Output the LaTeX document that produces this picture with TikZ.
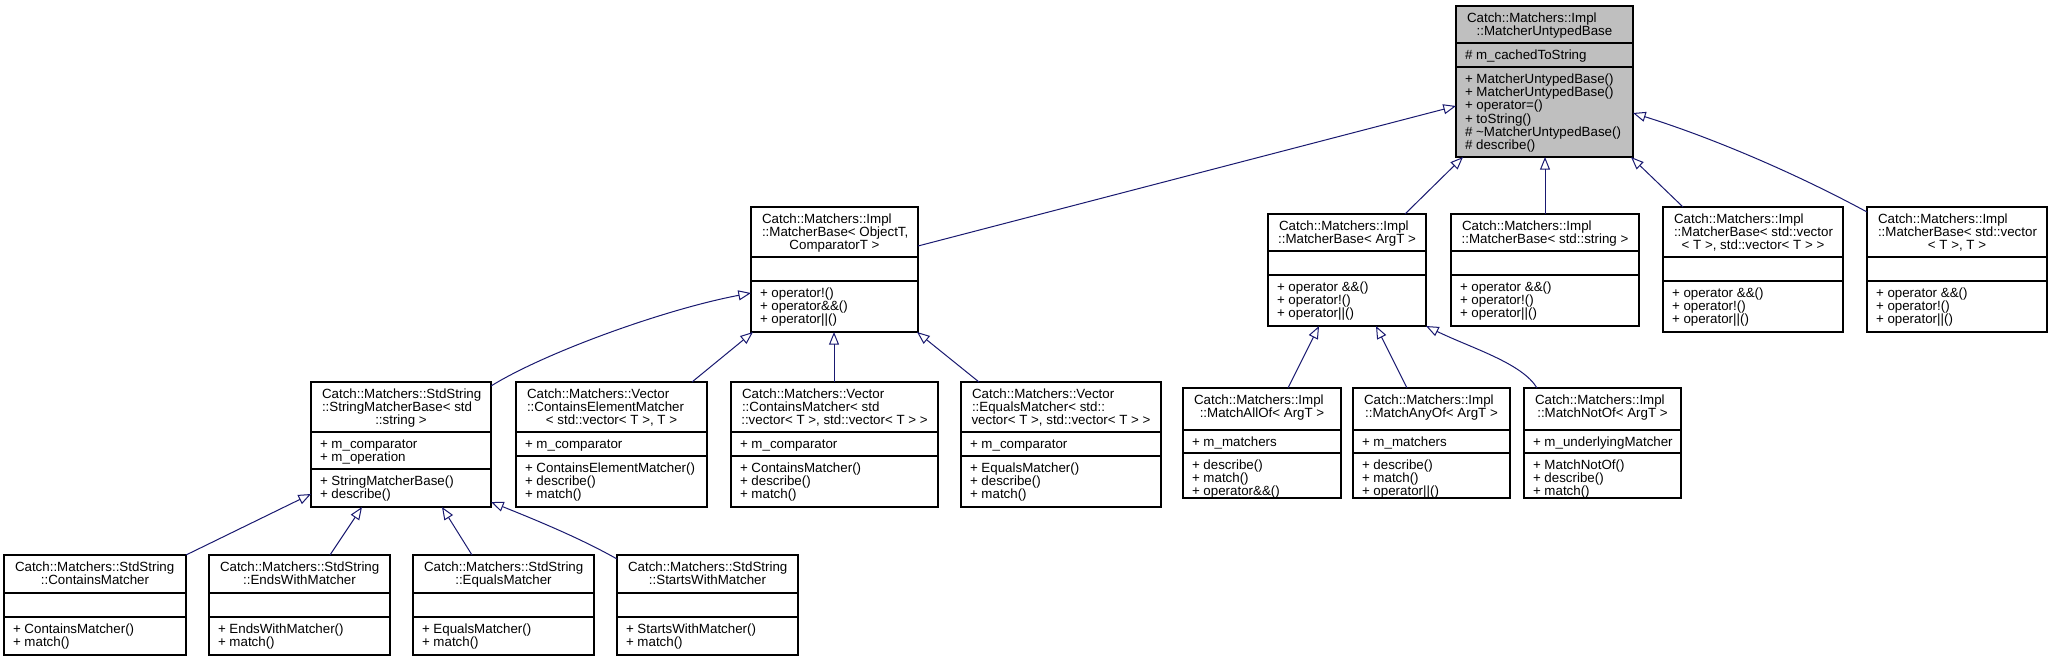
\documentclass[tikz,border=0pt]{standalone}
\usepackage{fontspec}
\setmainfont{Liberation Sans}
\usetikzlibrary{fit,arrows.meta,calc}
\definecolor{edgeblue}{HTML}{191970}
\definecolor{rootgrey}{HTML}{BFBFBF}
\newcommand\umlrows[1]{\vtop{\baselineskip=10pt\lineskiplimit=-20pt\halign{##\hfil\cr#1\crcr}}}
\newcommand\umltitlerows[2]{\vtop{\baselineskip=10pt\lineskiplimit=-20pt\halign{##\hfil\cr#1\cr\hbox to \umlW{\hss#2\hss}\cr}}}
\newcommand\umlbox[8][]{%
  \node[classbox,#1,fit={(#3,#4) (#5,#6)}] (#2) {};
  \draw[divider] (#3,#7) -- (#5,#7);
  \draw[divider] (#3,#8) -- (#5,#8);
  \pgfmathsetlengthmacro\umlW{(#5-#3-22)*0.75pt}%
  \def\umlX{#3}\def\umlY{#4}\def\umlA{#7}\def\umlB{#8}\def\umlN{#2}%
}
\newcommand\umltitle[2]{\node[umltext] (\umlN-title) at (\umlX+11,\umlY+16) {\umltitlerows{#1}{#2}};}
\newcommand\umlattrs[1]{\node[umltext] (\umlN-attrs) at (\umlX+9,\umlA+16.3) {\umlrows{#1}};}
\newcommand\umlops[1]{\node[umltext] (\umlN-ops) at (\umlX+9,\umlB+16.3) {\umlrows{#1}};}
\begin{document}
\begin{tikzpicture}[x=0.75pt,y=-0.75pt,
  classbox/.style={draw=black,line width=0.9pt,fill=white,inner sep=0pt,outer sep=0pt},
  divider/.style={draw=black,line width=0.9pt},
  umltext/.style={inner sep=0pt,outer sep=0pt,anchor=base west,font=\fontsize{10}{10}\selectfont},
  inh/.style={draw=edgeblue,line width=0.75pt,-{Triangle[open,length=9.5pt,width=7.5pt]}}]
\fill[white] (0,0) rectangle (2052,661);
\useasboundingbox (0,0) rectangle (2052,661);

% root
\umlbox[fill=rootgrey]{root}{1456}{6}{1633}{157}{43}{67}
\umltitle{Catch::Matchers::Impl}{::MatcherUntypedBase}
\umlattrs{\# m\_cachedToString}
\umlops{+ MatcherUntypedBase()\cr + MatcherUntypedBase()\cr + operator=()\cr + toString()\cr \# \textasciitilde{}MatcherUntypedBase()\cr \# describe()}

% level 2
\umlbox{mbObj}{751}{207}{918}{332}{257}{281}
\umltitle{Catch::Matchers::Impl\cr ::MatcherBase< ObjectT,}{ComparatorT >}
\umlops{+ operator!()\cr + operator\&\&()\cr + operator||()}

\umlbox{mbArg}{1268}{214}{1426}{326}{251}{275}
\umltitle{Catch::Matchers::Impl}{::MatcherBase< ArgT >}
\umlops{+ operator \&\&()\cr + operator!()\cr + operator||()}

\umlbox{mbStr}{1451}{214}{1639}{326}{251}{275}
\umltitle{Catch::Matchers::Impl}{::MatcherBase< std::string >}
\umlops{+ operator \&\&()\cr + operator!()\cr + operator||()}

\umlbox{mbVV}{1663}{207}{1843}{332}{257}{281}
\umltitle{Catch::Matchers::Impl\cr ::MatcherBase< std::vector}{< T >, std::vector< T > >}
\umlops{+ operator \&\&()\cr + operator!()\cr + operator||()}

\umlbox{mbVT}{1867}{207}{2047}{332}{257}{281}
\umltitle{Catch::Matchers::Impl\cr ::MatcherBase< std::vector}{< T >, T >}
\umlops{+ operator \&\&()\cr + operator!()\cr + operator||()}

% level 3
\umlbox{smb}{311}{382}{491}{507}{432}{469}
\umltitle{Catch::Matchers::StdString\cr ::StringMatcherBase< std}{::string >}
\umlattrs{+ m\_comparator\cr + m\_operation}
\umlops{+ StringMatcherBase()\cr + describe()}

\umlbox{cem}{516}{382}{707}{507}{432}{456}
\umltitle{Catch::Matchers::Vector\cr ::ContainsElementMatcher}{< std::vector< T >, T >}
\umlattrs{+ m\_comparator}
\umlops{+ ContainsElementMatcher()\cr + describe()\cr + match()}

\umlbox{vcm}{731}{382}{938}{507}{432}{456}
\umltitle{Catch::Matchers::Vector\cr ::ContainsMatcher< std}{::vector< T >, std::vector< T > >}
\umlattrs{+ m\_comparator}
\umlops{+ ContainsMatcher()\cr + describe()\cr + match()}

\umlbox{vem}{961}{382}{1161}{507}{432}{456}
\umltitle{Catch::Matchers::Vector\cr ::EqualsMatcher< std::}{vector< T >, std::vector< T > >}
\umlattrs{+ m\_comparator}
\umlops{+ EqualsMatcher()\cr + describe()\cr + match()}

\umlbox{mao}{1183}{388}{1341}{498}{430}{453}
\umltitle{Catch::Matchers::Impl}{::MatchAllOf< ArgT >}
\umlattrs{+ m\_matchers}
\umlops{+ describe()\cr + match()\cr + operator\&\&()}

\umlbox{many}{1353}{388}{1510}{498}{430}{453}
\umltitle{Catch::Matchers::Impl}{::MatchAnyOf< ArgT >}
\umlattrs{+ m\_matchers}
\umlops{+ describe()\cr + match()\cr + operator||()}

\umlbox{mnot}{1524}{388}{1681}{498}{430}{453}
\umltitle{Catch::Matchers::Impl}{::MatchNotOf< ArgT >}
\umlattrs{+ m\_underlyingMatcher}
\umlops{+ MatchNotOf()\cr + describe()\cr + match()}

% level 4
\umlbox{sc}{4}{555}{186}{655}{593}{617}
\umltitle{Catch::Matchers::StdString}{::ContainsMatcher}
\umlops{+ ContainsMatcher()\cr + match()}

\umlbox{sew}{209}{555}{390}{655}{593}{617}
\umltitle{Catch::Matchers::StdString}{::EndsWithMatcher}
\umlops{+ EndsWithMatcher()\cr + match()}

\umlbox{seq}{413}{555}{594}{655}{593}{617}
\umltitle{Catch::Matchers::StdString}{::EqualsMatcher}
\umlops{+ EqualsMatcher()\cr + match()}

\umlbox{ssw}{617}{555}{798}{655}{593}{617}
\umltitle{Catch::Matchers::StdString}{::StartsWithMatcher}
\umlops{+ StartsWithMatcher()\cr + match()}

% connectors
\draw[inh] ($(mbObj.north east)+(0,39)$) -- ($(root.north west)+(0,100)$);
\draw[inh] ($(mbArg.north west)+(137,0)$) -- ($(root.south west)+(7,0)$);
\draw[inh] ($(mbStr.north west)+(94,0)$) -- ($(root.south west)+(89,0)$);
\draw[inh] ($(mbVV.north west)+(20,0)$) -- ($(root.south east)+(-2,0)$);
\draw[inh] ($(mbVT.north west)+(0,5)$) .. controls +(-70,-38) and +(80,25) .. ($(root.north east)+(0,107)$);

\draw[inh] ($(smb.north east)+(0,4)$) .. controls +(55,-34) and +(-85,16) .. ($(mbObj.north west)+(0,86)$);
\draw[inh] ($(cem.north west)+(176,0)$) -- ($(mbObj.south west)+(2,0)$);
\draw[inh] ($(vcm.north west)+(103,0)$) -- ($(mbObj.south west)+(83,0)$);
\draw[inh] ($(vem.north west)+(18,0)$) -- ($(mbObj.south east)+(-1,0)$);

\draw[inh] ($(mao.north west)+(105,0)$) -- ($(mbArg.south west)+(51,0)$);
\draw[inh] ($(many.north west)+(54,0)$) -- ($(mbArg.south west)+(108,0)$);
\draw[inh] ($(mnot.north west)+(13,0)$) .. controls +(-15,-25) and +(45,22) .. (mbArg.south east);

\draw[inh] (sc.north east) -- ($(smb.south west)+(0,-13)$);
\draw[inh] ($(sew.north west)+(121,0)$) -- ($(smb.south west)+(51,0)$);
\draw[inh] ($(seq.north west)+(59,0)$) -- ($(smb.south west)+(131,0)$);
\draw[inh] ($(ssw.north west)+(0,4)$) .. controls +(-35,-20) and +(45,18) .. ($(smb.south east)+(0,-5)$);
\end{tikzpicture}
\end{document}
